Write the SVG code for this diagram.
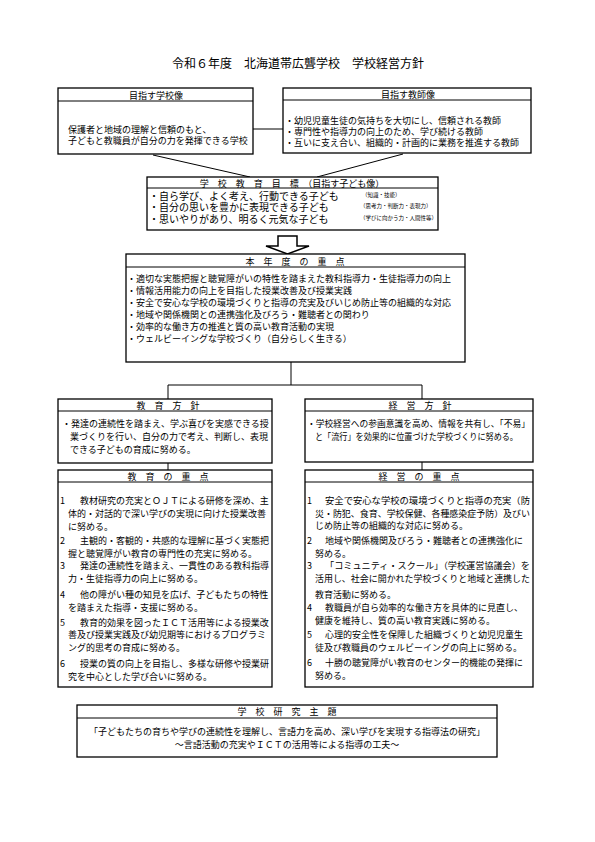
<svg xmlns="http://www.w3.org/2000/svg" width="595" height="842" viewBox="0 0 595 842">
<style>
.box{fill:#fff;stroke:#000;stroke-width:1.3}
.ln{fill:none;stroke:#000;stroke-width:1}
text{font-family:"Noto Sans CJK JP","Noto Sans CJK SC",sans-serif;fill:#000;dominant-baseline:central}
.t{font-size:9px}
.t10{font-size:10px}
.s{font-size:5.5px}
.h{font-size:9px;text-anchor:middle}
.title{font-size:12px;text-anchor:middle}
</style>
<rect width="595" height="842" fill="#fff"/>
<text class="title" x="298" y="62">令和６年度　北海道帯広聾学校　学校経営方針</text>

<g id="connectors">
<line class="ln" x1="253" y1="129" x2="283" y2="129"/>
<line class="ln" x1="153" y1="155" x2="250" y2="177"/>
<line class="ln" x1="403" y1="154" x2="317" y2="177"/>
<polyline class="ln" points="291,362 291,385"/>
<polyline class="ln" points="168,399 168,385 422,385 422,399"/>
<line class="ln" x1="168" y1="463" x2="168" y2="470"/>
<line class="ln" x1="422" y1="462" x2="422" y2="470"/>
</g>

<g id="arrow">
<path d="M278,236 H297 V246 H309 L287.5,254 L266,246 H278 Z" fill="#fff" stroke="#000" stroke-width="1.5" stroke-linejoin="miter"/>
</g>

<g id="school-image">
<rect class="box" x="58" y="88" width="195" height="66"/>
<line class="ln" x1="58" y1="101" x2="253" y2="101"/>
<text class="h" x="156" y="95">目指す学校像</text>
<text class="t" x="68" y="129">保護者と地域の理解と信頼のもと、</text>
<text class="t" x="68" y="140">子どもと教職員が自分の力を発揮できる学校</text>
</g>

<g id="teacher-image">
<rect class="box" x="283" y="88" width="248" height="65"/>
<line class="ln" x1="283" y1="100" x2="531" y2="100"/>
<text class="h" x="408" y="94">目指す教師像</text>
<text class="t" x="285" y="120">・幼児児童生徒の気持ちを大切にし、信頼される教師</text>
<text class="t" x="285" y="131">・専門性や指導力の向上のため、学び続ける教師</text>
<text class="t" x="285" y="142">・互いに支え合い、組織的・計画的に業務を推進する教師</text>
</g>

<g id="school-goal">
<rect class="box" x="147" y="177" width="291" height="53"/>
<line class="ln" x1="147" y1="188" x2="438" y2="188"/>
<text class="h" x="292" y="183">学　校　教　育　目　標　（目指す子ども像）</text>
<text class="t10" x="149" y="195">・自ら学び、よく考え、行動できる子ども</text>
<text class="s" x="362" y="195">（知識・技能）</text>
<text class="t10" x="149" y="206">・自分の思いを豊かに表現できる子ども</text>
<text class="s" x="360" y="206">（思考力・判断力・表現力）</text>
<text class="t10" x="149" y="218">・思いやりがあり、明るく元気な子ども</text>
<text class="s" x="360" y="218">（学びに向かう力・人間性等）</text>
</g>

<g id="priorities">
<rect class="box" x="126" y="254" width="339" height="108"/>
<line class="ln" x1="126" y1="267" x2="465" y2="267"/>
<text class="h" x="295" y="261">本　年　度　の　重　点</text>
<text class="t" x="127" y="278">・適切な実態把握と聴覚障がいの特性を踏まえた教科指導力・生徒指導力の向上</text>
<text class="t" x="127" y="290">・情報活用能力の向上を目指した授業改善及び授業実践</text>
<text class="t" x="127" y="302">・安全で安心な学校の環境づくりと指導の充実及びいじめ防止等の組織的な対応</text>
<text class="t" x="127" y="314">・地域や関係機関との連携強化及びろう・難聴者との関わり</text>
<text class="t" x="127" y="326">・効率的な働き方の推進と質の高い教育活動の実現</text>
<text class="t" x="127" y="338">・ウェルビーイングな学校づくり（自分らしく生きる）</text>
</g>

<g id="edu-policy">
<rect class="box" x="58" y="399" width="214" height="64"/>
<line class="ln" x1="58" y1="411" x2="272" y2="411"/>
<text class="h" x="168" y="405">教　育　方　針</text>
<text class="t" x="62" y="423">・発達の連続性を踏まえ、学ぶ喜びを実感できる授</text>
<text class="t" x="70" y="436">業づくりを行い、自分の力で考え、判断し、表現</text>
<text class="t" x="70" y="449">できる子どもの育成に努める。</text>
</g>

<g id="mgmt-policy">
<rect class="box" x="305" y="399" width="228" height="63"/>
<line class="ln" x1="305" y1="411" x2="533" y2="411"/>
<text class="h" x="420" y="405">経　営　方　針</text>
<text class="t" x="307" y="423" textLength="223" lengthAdjust="spacingAndGlyphs">・学校経営への参画意識を高め、情報を共有し、「不易」</text>
<text class="t" x="315" y="436" textLength="203" lengthAdjust="spacingAndGlyphs">と「流行」を効果的に位置づけた学校づくりに努める。</text>
</g>

<g id="edu-priorities">
<rect class="box" x="58" y="470" width="214" height="217"/>
<line class="ln" x1="58" y1="482" x2="272" y2="482"/>
<text class="h" x="168" y="476">教　育　の　重　点</text>
<text class="t" x="60" y="500">1</text><text class="t" x="80" y="500">教材研究の充実とＯＪＴによる研修を深め、主</text>
<text class="t" x="68" y="513">体的・対話的で深い学びの実現に向けた授業改善</text>
<text class="t" x="68" y="526">に努める。</text>
<text class="t" x="60" y="540">2</text><text class="t" x="80" y="540">主観的・客観的・共感的な理解に基づく実態把</text>
<text class="t" x="68" y="553">握と聴覚障がい教育の専門性の充実に努める。</text>
<text class="t" x="60" y="565">3</text><text class="t" x="80" y="565">発達の連続性を踏まえ、一貫性のある教科指導</text>
<text class="t" x="68" y="578">力・生徒指導力の向上に努める。</text>
<text class="t" x="60" y="594">4</text><text class="t" x="80" y="594">他の障がい種の知見を広げ、子どもたちの特性</text>
<text class="t" x="68" y="607">を踏まえた指導・支援に努める。</text>
<text class="t" x="60" y="622">5</text><text class="t" x="80" y="622">教育的効果を図ったＩＣＴ活用等による授業改</text>
<text class="t" x="68" y="634">善及び授業実践及び幼児期等におけるプログラミ</text>
<text class="t" x="68" y="647">ング的思考の育成に努める。</text>
<text class="t" x="60" y="663">6</text><text class="t" x="80" y="663">授業の質の向上を目指し、多様な研修や授業研</text>
<text class="t" x="68" y="676">究を中心とした学び合いに努める。</text>
</g>

<g id="mgmt-priorities">
<rect class="box" x="305" y="470" width="228" height="217"/>
<line class="ln" x1="305" y1="482" x2="533" y2="482"/>
<text class="h" x="419" y="476">経　営　の　重　点</text>
<text class="t" x="307" y="500">1</text><text class="t" x="325" y="500" textLength="205" lengthAdjust="spacingAndGlyphs">安全で安心な学校の環境づくりと指導の充実（防</text>
<text class="t" x="315" y="513" textLength="215" lengthAdjust="spacingAndGlyphs">災・防犯、食育、学校保健、各種感染症予防）及びい</text>
<text class="t" x="315" y="525">じめ防止等の組織的な対応に努める。</text>
<text class="t" x="307" y="540">2</text><text class="t" x="325" y="540">地域や関係機関及びろう・難聴者との連携強化に</text>
<text class="t" x="315" y="553">努める。</text>
<text class="t" x="307" y="565">3</text><text class="t" x="325" y="565" textLength="205" lengthAdjust="spacingAndGlyphs">「コミュニティ・スクール」（学校運営協議会）を</text>
<text class="t" x="315" y="578" textLength="215" lengthAdjust="spacingAndGlyphs">活用し、社会に開かれた学校づくりと地域と連携した</text>
<text class="t" x="315" y="594">教育活動に努める。</text>
<text class="t" x="307" y="607">4</text><text class="t" x="325" y="607">教職員が自ら効率的な働き方を具体的に見直し、</text>
<text class="t" x="315" y="620">健康を維持し、質の高い教育実践に努める。</text>
<text class="t" x="307" y="634">5</text><text class="t" x="325" y="634">心理的安全性を保障した組織づくりと幼児児童生</text>
<text class="t" x="315" y="647">徒及び教職員のウェルビーイングの向上に努める。</text>
<text class="t" x="307" y="662">6</text><text class="t" x="325" y="662">十勝の聴覚障がい教育のセンター的機能の発揮に</text>
<text class="t" x="315" y="675">努める。</text>
</g>

<g id="research-theme">
<rect class="box" x="77" y="705" width="420" height="52"/>
<line class="ln" x1="77" y1="718" x2="497" y2="718"/>
<text class="h" x="287" y="711">学　校　研　究　主　題</text>
<text class="t" x="287" y="731" text-anchor="middle">「子どもたちの育ちや学びの連続性を理解し、言語力を高め、深い学びを実現する指導法の研究」</text>
<text class="t" x="287" y="744" text-anchor="middle">～言語活動の充実やＩＣＴの活用等による指導の工夫～</text>
</g>
</svg>
